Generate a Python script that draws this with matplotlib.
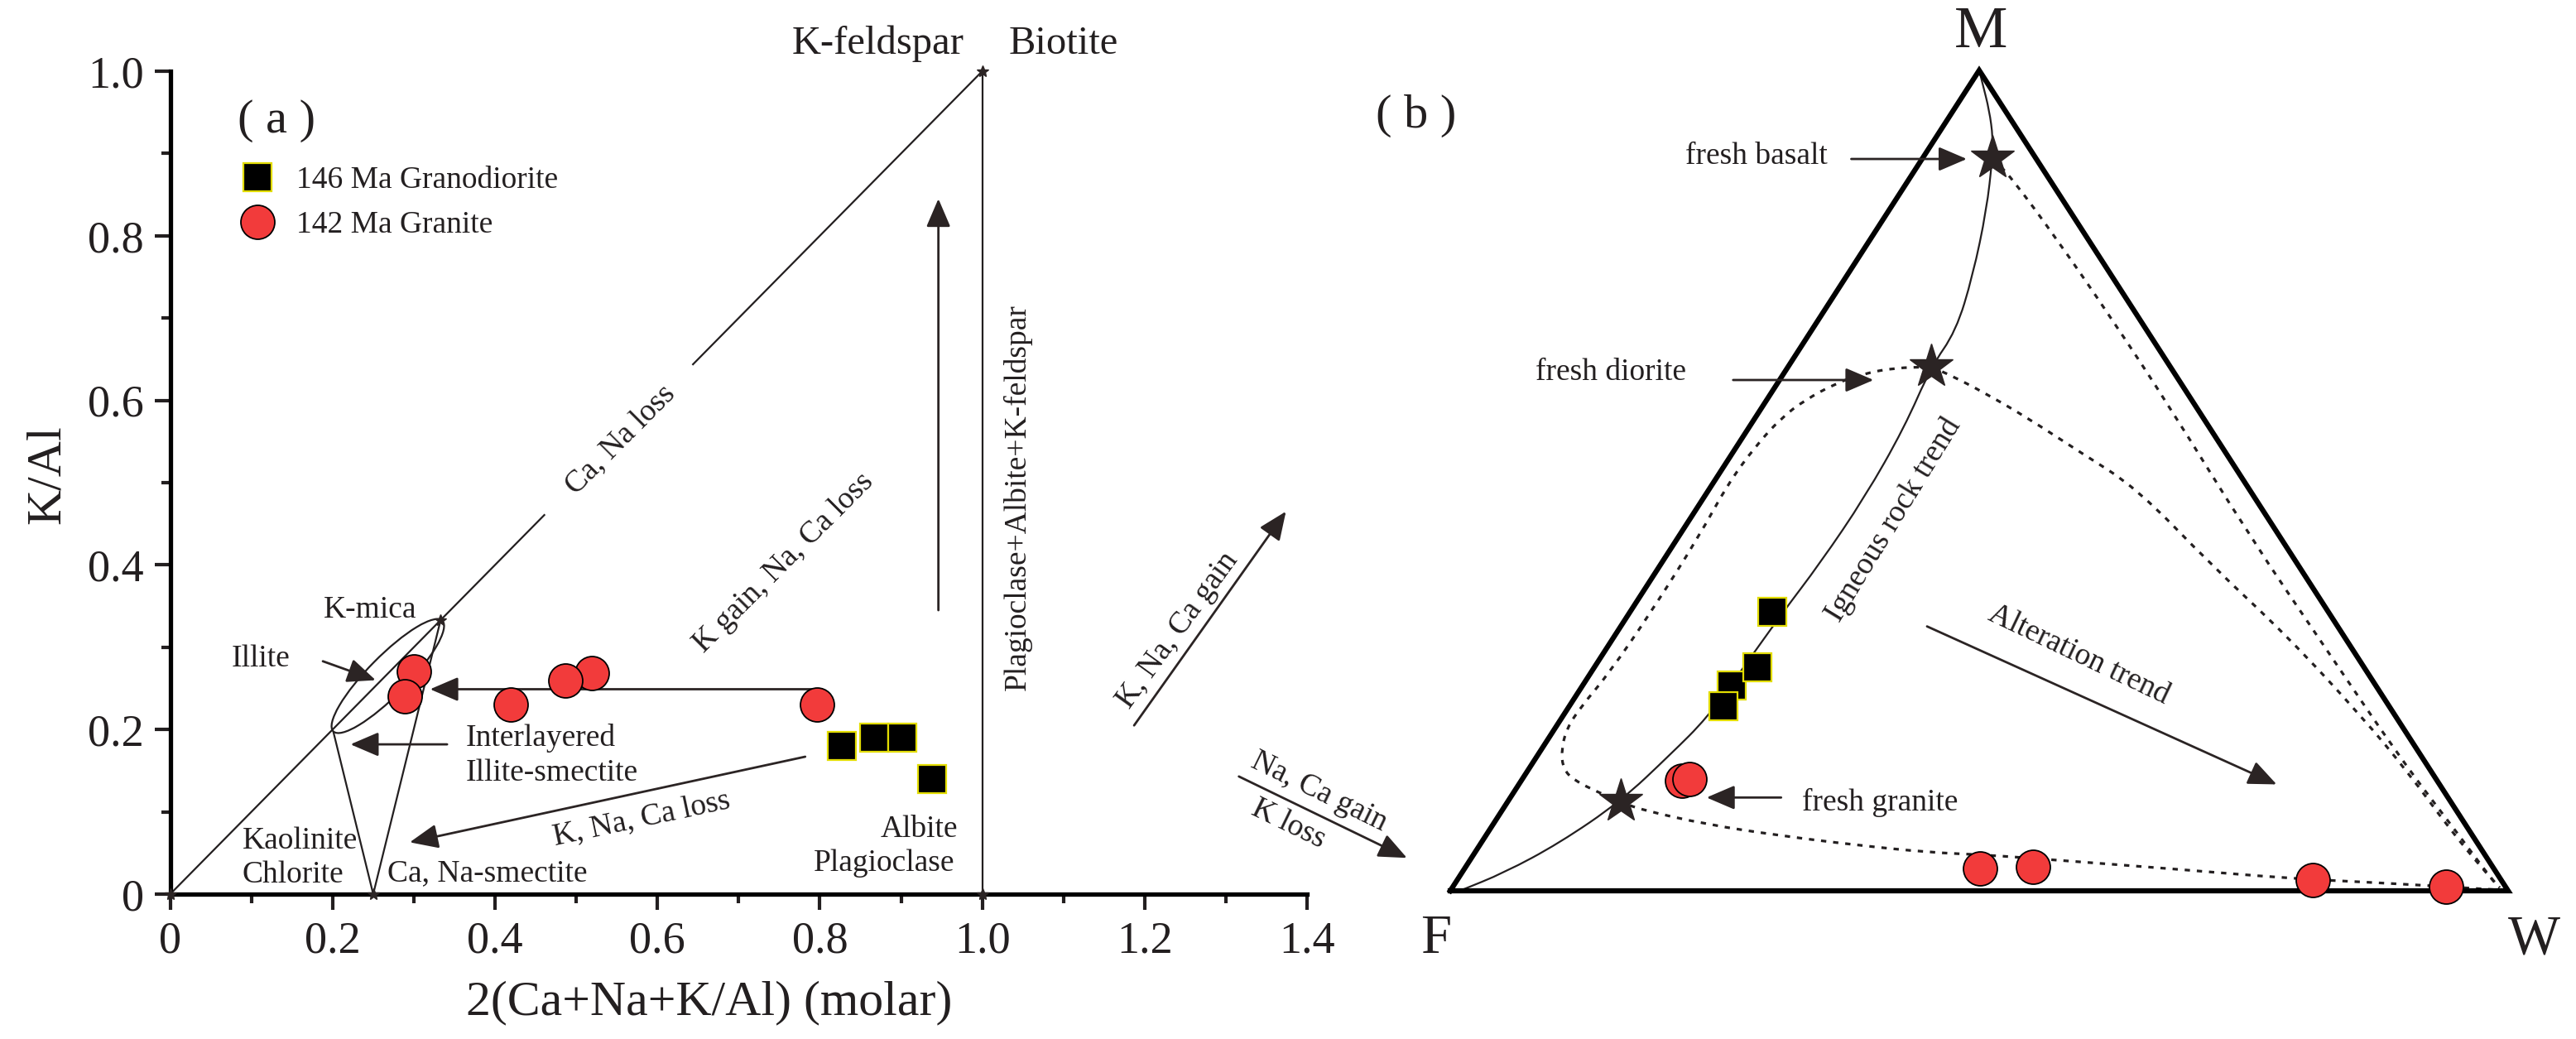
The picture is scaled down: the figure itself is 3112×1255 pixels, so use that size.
import numpy as np
import matplotlib
matplotlib.use("Agg")
import matplotlib.pyplot as plt
from matplotlib.path import Path
from matplotlib.patches import PathPatch, Ellipse
from matplotlib.lines import Line2D

plt.rcParams['font.family'] = ['Liberation Serif', 'DejaVu Serif']

# ---------------- data : panel (a) ----------------
granodiorite_x = [0.827, 0.867, 0.901, 0.938]
granodiorite_y = [0.180, 0.190, 0.190, 0.140]
granite_x = [0.300, 0.289, 0.519, 0.487, 0.419, 0.797]
granite_y = [0.271, 0.240, 0.269, 0.260, 0.230, 0.230]

x_ticks = [0, 0.2, 0.4, 0.6, 0.8, 1.0, 1.2, 1.4]
x_ticklabels = ['0', '0.2', '0.4', '0.6', '0.8', '1.0', '1.2', '1.4']
x_minor = [0.1, 0.3, 0.5, 0.7, 0.9, 1.1, 1.3]
y_ticks = [0, 0.2, 0.4, 0.6, 0.8, 1.0]
y_ticklabels = ['0', '0.2', '0.4', '0.6', '0.8', '1.0']
y_minor = [0.1, 0.3, 0.5, 0.7, 0.9]

# reference mineral points (x, y)
mineral_x = [0.0, 0.25, 0.333, 1.0, 1.0]
mineral_y = [0.0, 0.0, 0.333, 1.0, 0.0]

# ---------------- data : panel (b), ternary M-F-W (%) ----------------
gd_M = [25.0, 22.5, 27.2, 34.0]
gd_F = [60.9, 62.9, 57.4, 52.6]
gd_W = [14.1, 14.6, 15.4, 13.4]
gr_M = [13.4, 13.6, 2.7, 2.9, 1.3, 0.5]
gr_F = [71.4, 70.6, 48.6, 43.5, 17.8, 5.6]
gr_W = [15.2, 15.8, 48.7, 53.6, 80.9, 93.9]
fresh_names = ['fresh basalt', 'fresh diorite', 'fresh granite']
fresh_M = [89.3, 63.9, 10.9]
fresh_F = [4.1, 22.6, 78.4]
fresh_W = [6.6, 13.5, 10.7]

# guide curves in triangle plane (x: F->W, y: base->M)
igneous_x = [0.009, 0.051, 0.103, 0.161, 0.208, 0.243, 0.276, 0.313, 0.350, 0.392,
             0.429, 0.4545, 0.478, 0.494, 0.507, 0.5125, 0.513, 0.5096, 0.503, 0.500]
igneous_y = [0.000, 0.022, 0.058, 0.109, 0.166, 0.211, 0.270, 0.337, 0.400, 0.480,
             0.564, 0.6385, 0.682, 0.750, 0.830, 0.893, 0.918, 0.951, 0.985, 1.000]
granite_path_x = [0.4545, 0.420, 0.390, 0.3653, 0.335, 0.3128, 0.2885, 0.262, 0.2356,
                  0.19, 0.150, 0.124, 0.110, 0.105, 0.1068, 0.1172, 0.1382, 0.1609,
                  0.18, 0.243, 0.3128, 0.3826, 0.4524, 0.507, 0.5693, 0.6847, 0.7911,
                  0.8623, 0.9246, 0.992]
granite_path_y = [0.6385, 0.6375, 0.630, 0.619, 0.598, 0.5762, 0.5419, 0.495, 0.433,
                  0.34, 0.265, 0.225, 0.1978, 0.1707, 0.1483, 0.1347, 0.1211, 0.1086,
                  0.099, 0.0807, 0.0671, 0.0559, 0.0468, 0.0437, 0.0378, 0.0266, 0.0153,
                  0.0108, 0.0064, 0.0010]
basalt_path_x = [0.5125, 0.530, 0.5722, 0.6244, 0.680, 0.7558, 0.8268, 0.8979, 0.9513,
                 0.985, 0.992]
basalt_path_y = [0.893, 0.870, 0.7965, 0.699, 0.590, 0.432, 0.2969, 0.1618, 0.0716,
                 0.0131, 0.004]
diorite_path_x = [0.4545, 0.4732, 0.505, 0.545, 0.595, 0.6491, 0.7203, 0.7913, 0.8624,
                  0.905, 0.945, 0.975, 0.992]
diorite_path_y = [0.6385, 0.6283, 0.607, 0.577, 0.535, 0.4906, 0.396, 0.3104, 0.2113,
                  0.145, 0.075, 0.028, 0.004]

# ---------------- styles ----------------
RED = '#F23B3B'
YEL = '#E2DC00'
DARK = '#2B2424'
TXT = '#231F20'


def tern_xy(M, W):
    M = np.asarray(M) / 100.0
    W = np.asarray(W) / 100.0
    return W + M / 2.0, M


def smooth_patch(xs, ys, **kw):
    pts = np.column_stack([xs, ys])
    mids = (pts[:-1] + pts[1:]) / 2.0
    verts = [pts[0], mids[0]]
    codes = [Path.MOVETO, Path.LINETO]
    for i in range(1, len(pts) - 1):
        verts += [pts[i], mids[i]]
        codes += [Path.CURVE3, Path.CURVE3]
    verts.append(pts[-1])
    codes.append(Path.LINETO)
    return PathPatch(Path(verts, codes), fill=False, **kw)


def arrow(ax, tail, tip, lw=2.0, ms=30):
    ax.annotate('', xy=tip, xytext=tail, xycoords='data', textcoords='data',
                annotation_clip=False,
                arrowprops=dict(arrowstyle='-|>,head_length=0.7,head_width=0.3',
                                mutation_scale=ms, lw=lw, color=DARK,
                                shrinkA=0, shrinkB=0))


fig = plt.figure(figsize=(31.12, 12.55), dpi=100)
fig.patch.set_facecolor('white')

# ================= panel (a) =================
ax1 = fig.add_axes([0.06607, 0.13944, 0.44133, 0.79203])
ax1.set_xlim(0, 1.4)
ax1.set_ylim(0, 1.0)
for s in ['top', 'right']:
    ax1.spines[s].set_visible(False)
for s in ['left', 'bottom']:
    ax1.spines[s].set_linewidth(3.8)
ax1.set_xticks(x_ticks)
ax1.set_xticklabels(x_ticklabels)
ax1.set_xticks(x_minor, minor=True)
ax1.set_yticks(y_ticks)
ax1.set_yticklabels(y_ticklabels)
ax1.set_yticks(y_minor, minor=True)
ax1.tick_params(which='major', direction='out', length=14, width=3, labelsize=39,
                pad=9, colors=TXT)
ax1.tick_params(which='minor', direction='out', length=8, width=3, colors=TXT)

ax1.text(0.474, -0.132, '2(Ca+Na+K/Al) (molar)', transform=ax1.transAxes,
         ha='center', va='center', fontsize=43, color=TXT)
ax1.text(-0.108, 0.51, 'K/Al', transform=ax1.transAxes, rotation=90,
         ha='center', va='center', fontsize=43, color=TXT)

thin = dict(color=TXT, lw=1.6, solid_capstyle='butt')
ax1.plot([0, 0.4615], [0, 0.4615], **thin)
ax1.plot([0.643, 1.0], [0.643, 1.0], **thin)
ax1.plot([1.0, 1.0], [0, 1.0], **thin)
ax1.plot([0.2008, 0.25], [0.1978, 0.0], **thin)
ax1.plot([0.333, 0.25], [0.333, 0.0], **thin)
ax1.add_patch(Ellipse((0.268, 0.265), width=0.19, height=0.048, angle=45,
                      fill=False, lw=1.6, ec=TXT))
ax1.plot(mineral_x, mineral_y, ls='none', marker='*', ms=10, color=DARK,
         clip_on=False, zorder=5)

arrow(ax1, (0.188, 0.283), (0.253, 0.260))
arrow(ax1, (0.341, 0.182), (0.222, 0.182))
arrow(ax1, (0.79, 0.249), (0.32, 0.249))
arrow(ax1, (0.782, 0.167), (0.295, 0.063))
arrow(ax1, (0.946, 0.345), (0.946, 0.845))
arrow(ax1, (1.187, 0.205), (1.374, 0.465))
arrow(ax1, (1.316, 0.143), (1.523, 0.044))

ax1.plot(granite_x, granite_y, ls='none', marker='o', ms=29.5, mfc=RED, mec='black',
         mew=1.3, zorder=6)
ax1.plot(granodiorite_x, granodiorite_y, ls='none', marker='s', ms=25, mfc='black',
         mec=YEL, mew=1.6, zorder=6)

FS = 27
tk = dict(fontsize=FS, color=TXT)
ax1.text(0.131, 0.94, '( a )', ha='center', va='center', fontsize=42, color=TXT)
ax1.text(0.978, 1.021, 'K-feldspar', ha='right', va='baseline', fontsize=35,
         color=TXT, clip_on=False)
ax1.text(1.033, 1.021, 'Biotite', ha='left', va='baseline', fontsize=35,
         color=TXT, clip_on=False)
ax1.text(0.111, 0.286, 'Illite', ha='center', va='center', **tk)
ax1.text(0.246, 0.345, 'K-mica', ha='center', va='center', **tk)
ax1.text(0.364, 0.190, 'Interlayered', ha='left', va='center', **tk)
ax1.text(0.364, 0.147, 'Illite-smectite', ha='left', va='center', **tk)
ax1.text(0.089, 0.065, 'Kaolinite', ha='left', va='center', **tk)
ax1.text(0.089, 0.023, 'Chlorite', ha='left', va='center', **tk)
ax1.text(0.267, 0.025, 'Ca, Na-smectite', ha='left', va='center', **tk)
ax1.text(0.970, 0.079, 'Albite', ha='right', va='center', **tk)
ax1.text(0.966, 0.037, 'Plagioclase', ha='right', va='center', **tk)
ax1.text(0.555, 0.552, 'Ca, Na loss', ha='center', va='center', rotation=45,
         rotation_mode='anchor', **tk)
ax1.text(0.7555, 0.4028, 'K gain, Na, Ca loss', ha='center', va='center',
         rotation=45, rotation_mode='anchor', **tk)
ax1.text(0.581, 0.0905, 'K, Na, Ca loss', ha='center', va='center', rotation=12,
         rotation_mode='anchor', **tk)
ax1.text(1.044, 0.482, 'Plagioclase+Albite+K-feldspar', ha='center', va='center',
         rotation=90, rotation_mode='anchor', **tk)
ax1.text(1.241, 0.321, 'K, Na, Ca gain', ha='center', va='center', rotation=54,
         rotation_mode='anchor', **tk)
ax1.text(1.415, 0.124, 'Na, Ca gain', ha='center', va='center', rotation=-26,
         rotation_mode='anchor', **tk)
ax1.text(1.377, 0.085, 'K loss', ha='center', va='center', rotation=-26,
         rotation_mode='anchor', **tk)

handles = [Line2D([], [], ls='none', marker='s', ms=25, mfc='black', mec=YEL, mew=1.6),
           Line2D([], [], ls='none', marker='o', ms=29.5, mfc=RED, mec='black', mew=1.3)]
ax1.legend(handles, ['146 Ma Granodiorite', '142 Ma Granite'], loc='upper left',
           bbox_to_anchor=(0.0634, 0.8844), frameon=False, borderpad=0,
           borderaxespad=0, handlelength=1.0, handletextpad=0.75,
           labelspacing=0.5, fontsize=FS, labelcolor=TXT)

# ================= panel (b) =================
ax2 = fig.add_axes([0.56298, 0.14263, 0.41067, 0.78964])
ax2.set_xlim(0, 1)
ax2.set_ylim(0, 1)
ax2.set_axis_off()

ax2.plot([0, 1, 0.5, 0], [0, 0, 1, 0], color='black', lw=4.5,
         solid_joinstyle='miter', clip_on=False, zorder=3)

ax2.add_patch(smooth_patch(igneous_x, igneous_y, ec=TXT, lw=1.6, zorder=2))
dotted = dict(ec=TXT, lw=2.3, ls=(0, (2.0, 2.6)), zorder=2)
ax2.add_patch(smooth_patch(granite_path_x, granite_path_y, **dotted))
ax2.add_patch(smooth_patch(basalt_path_x, basalt_path_y, **dotted))
ax2.add_patch(smooth_patch(diorite_path_x, diorite_path_y, **dotted))

fx, fy = tern_xy(fresh_M, fresh_W)
ax2.plot(fx, fy, ls='none', marker='*', ms=40, color=DARK, zorder=5)

gx, gy = tern_xy(gd_M, gd_W)
ax2.plot(gx, gy, ls='none', marker='s', ms=25, mfc='black', mec=YEL, mew=1.6,
         zorder=6)
rx, ry = tern_xy(gr_M, gr_W)
ax2.plot(rx, ry, ls='none', marker='o', ms=29.5, mfc=RED, mec='black', mew=1.3,
         zorder=6, clip_on=False)

arrow(ax2, (0.3791, 0.892), (0.4883, 0.892))
arrow(ax2, (0.2674, 0.6226), (0.4002, 0.6226))
arrow(ax2, (0.3128, 0.1137), (0.2423, 0.1137))
arrow(ax2, (0.4507, 0.3223), (0.7812, 0.1297))

ax2.text(0.2893, 0.8955, fresh_names[0], ha='center', va='center', **tk)
ax2.text(0.1516, 0.6319, fresh_names[1], ha='center', va='center', **tk)
ax2.text(0.4061, 0.1073, fresh_names[2], ha='center', va='center', **tk)
ax2.text(0.4194, 0.452, 'Igneous rock trend', ha='center', va='center',
         rotation=58.5, rotation_mode='anchor', **tk)
ax2.text(0.594, 0.288, 'Alteration trend', ha='center', va='center',
         rotation=-25.5, rotation_mode='anchor', **tk)

ax2.text(0.502, 1.046, 'M', ha='center', va='center', fontsize=52, color=TXT)
ax2.text(-0.0133, -0.0592, 'F', ha='center', va='center', fontsize=48, color=TXT)
ax2.text(1.0243, -0.0592, 'W', ha='center', va='center', fontsize=48, color=TXT)
ax2.text(-0.032, 0.9448, '( b )', ha='center', va='center', fontsize=42, color=TXT)

fig.savefig('out.png', dpi=100, facecolor='white')
